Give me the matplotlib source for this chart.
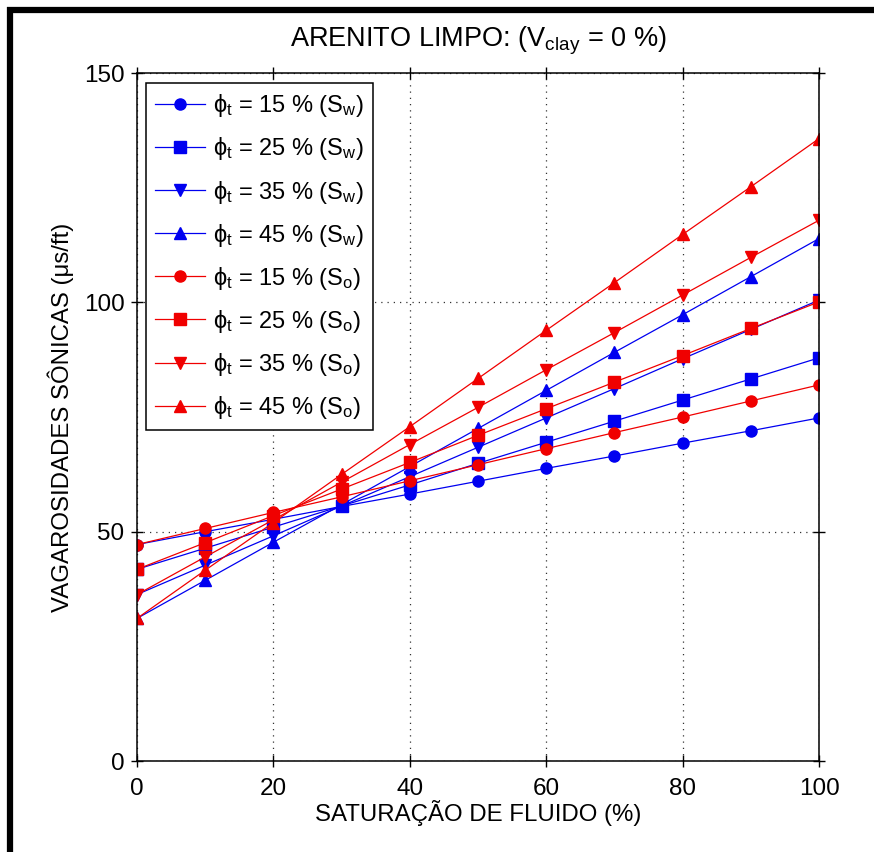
import matplotlib
matplotlib.use('Agg')
import matplotlib.pyplot as plt
from matplotlib.lines import Line2D

plt.rcParams['font.family'] = ['Liberation Sans', 'DejaVu Sans']
plt.rcParams['mathtext.fontset'] = 'custom'
plt.rcParams['mathtext.rm'] = 'Liberation Sans'
plt.rcParams['mathtext.it'] = 'Liberation Sans'
plt.rcParams['mathtext.fallback'] = 'stixsans'

# saturacao de fluido (%)
sat = [0, 10, 20, 30, 40, 50, 60, 70, 80, 90, 100]

# vagarosidades (us/ft) - agua (Sw)
sw_15 = [47.2, 50.0, 52.7, 55.5, 58.2, 61.0, 63.8, 66.5, 69.3, 72.0, 74.8]
sw_25 = [41.8, 46.4, 51.0, 55.6, 60.2, 64.9, 69.5, 74.1, 78.7, 83.3, 87.9]
sw_35 = [36.3, 42.7, 49.1, 55.6, 62.0, 68.4, 74.8, 81.2, 87.7, 94.1, 100.5]
sw_45 = [31.1, 39.4, 47.7, 55.9, 64.2, 72.5, 80.8, 89.1, 97.3, 105.6, 113.9]

# vagarosidades (us/ft) - oleo (So)
so_15 = [47.2, 50.7, 54.2, 57.6, 61.1, 64.6, 68.1, 71.6, 75.0, 78.5, 82.0]
so_25 = [41.8, 47.6, 53.5, 59.3, 65.1, 71.0, 76.8, 82.6, 88.4, 94.3, 100.1]
so_35 = [36.3, 44.5, 52.6, 60.8, 69.0, 77.1, 85.3, 93.4, 101.6, 109.8, 117.9]
so_45 = [31.1, 41.6, 52.0, 62.5, 72.9, 83.4, 93.9, 104.3, 114.8, 125.2, 135.7]

porosidades = ['15', '25', '35', '45']
marcadores = ['o', 's', 'v', '^']

fig = plt.figure(figsize=(8.74, 8.52), dpi=100)
ax = fig.add_axes([0.1568, 0.1068, 0.7803, 0.8075])

series = [(sw_15, sw_25, sw_35, sw_45, '#0000f0', 'w'),
          (so_15, so_25, so_35, so_45, '#f00000', 'o')]
for s15, s25, s35, s45, cor, sub in series:
    for vals, phi, mk in zip([s15, s25, s35, s45], porosidades, marcadores):
        ax.plot(sat, vals, color=cor, marker=mk, markersize=8, linewidth=0.9,
                markeredgecolor=cor, markerfacecolor=cor,
                label=r'$\phi_t$ = ' + phi + r' % (S$_{' + sub + '}$)')

ax.set_xlim(0, 100)
ax.set_ylim(0, 150)
ax.set_xticks([0, 20, 40, 60, 80, 100])
ax.set_yticks([0, 50, 100, 150])
ax.grid(True, linestyle=(0, (1, 4)), color='#333333', linewidth=0.9)
ax.tick_params(direction='inout', length=8, width=1, labelsize=17.5,
               top=True, right=True)
ax.tick_params(axis='x', pad=8)
ax.tick_params(axis='y', pad=5)
for sp in ax.spines.values():
    sp.set_linewidth(1.1)

ax.text(0.5, 1.039, r'ARENITO LIMPO: (V$_{clay}$ = 0 %)', fontsize=19.5,
        ha='center', va='baseline', transform=ax.transAxes)
ax.set_xlabel('SATURAÇÃO DE FLUIDO (%)', fontsize=17.3, labelpad=0)
ax.set_ylabel('VAGAROSIDADES SÔNICAS (μs/ft)', fontsize=17.3, labelpad=7)

leg = ax.legend(loc='upper left', bbox_to_anchor=(0.0132, 0.9855), fontsize=17,
                fancybox=False, framealpha=1, edgecolor='black',
                handlelength=2.08, labelspacing=0.68, borderpad=0.4,
                handletextpad=0.34, borderaxespad=0)
leg.get_frame().set_linewidth(1.1)

# moldura preta (topo e esquerda)
fig.add_artist(Line2D([0.008, 1.0], [0.988, 0.988], transform=fig.transFigure,
                      color='black', linewidth=4.5, solid_capstyle='butt'))
fig.add_artist(Line2D([0.0115, 0.0115], [0.0, 0.992], transform=fig.transFigure,
                      color='black', linewidth=4.5, solid_capstyle='butt'))

fig.savefig('out.png', dpi=100)
